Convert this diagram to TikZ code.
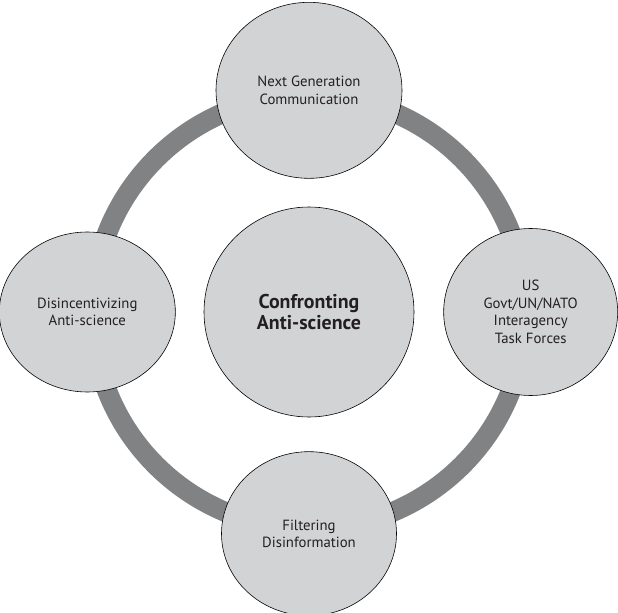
\documentclass[tikz,border=0pt]{standalone}
\usepackage{fontspec}
\setmainfont{PT Sans}
\usepackage{tikz}
\usepackage{xcolor}
\usetikzlibrary{shapes.geometric, positioning, backgrounds}
\definecolor{cFill}{RGB}{210,211,213}
\definecolor{cRing}{RGB}{128,130,132}
\definecolor{cText}{RGB}{35,31,32}
\tikzset{
    hubnode/.style ={circle, minimum size=6.3cm, draw=black, fill=cFill, line width=0.5pt, text=cText, align=center, font=\fontsize{17}{18.5}\selectfont\bfseries},
    spoke/.style   ={ellipse, draw=black, fill=cFill, line width=0.5pt, text=cText, align=center, inner sep=0pt, font=\fontsize{12.6}{15}\selectfont},
    ring/.style    ={draw=cRing, line width=0.6cm},
}

\begin{document}
\begin{tikzpicture}[node distance=6.65cm, on grid]
    \useasboundingbox (-9.27,-9.0) rectangle (9.27,9.36);
    \node[hubnode] (hub){Confronting\\Anti-science};
    \node[spoke, above=of hub, minimum width=5.58cm, minimum height=5.28cm] (nextgen){Next Generation\\Communication};
    \node[spoke, right=of hub, minimum width=5.22cm, minimum height=5.01cm] (taskforce){US\\Govt/UN/NATO\\Interagency\\Task Forces};
    \node[spoke, below=of hub, minimum width=5.25cm, minimum height=4.92cm] (filter){Filtering\\Disinformation};
    \node[spoke, left=of hub, minimum width=5.28cm, minimum height=4.8cm] (disinc){Disincentivizing\\Anti-science};
    \begin{scope}[on background layer]
        \draw[ring] (hub.center) circle[radius=6.5cm];
    \end{scope}
\end{tikzpicture}
\end{document}
